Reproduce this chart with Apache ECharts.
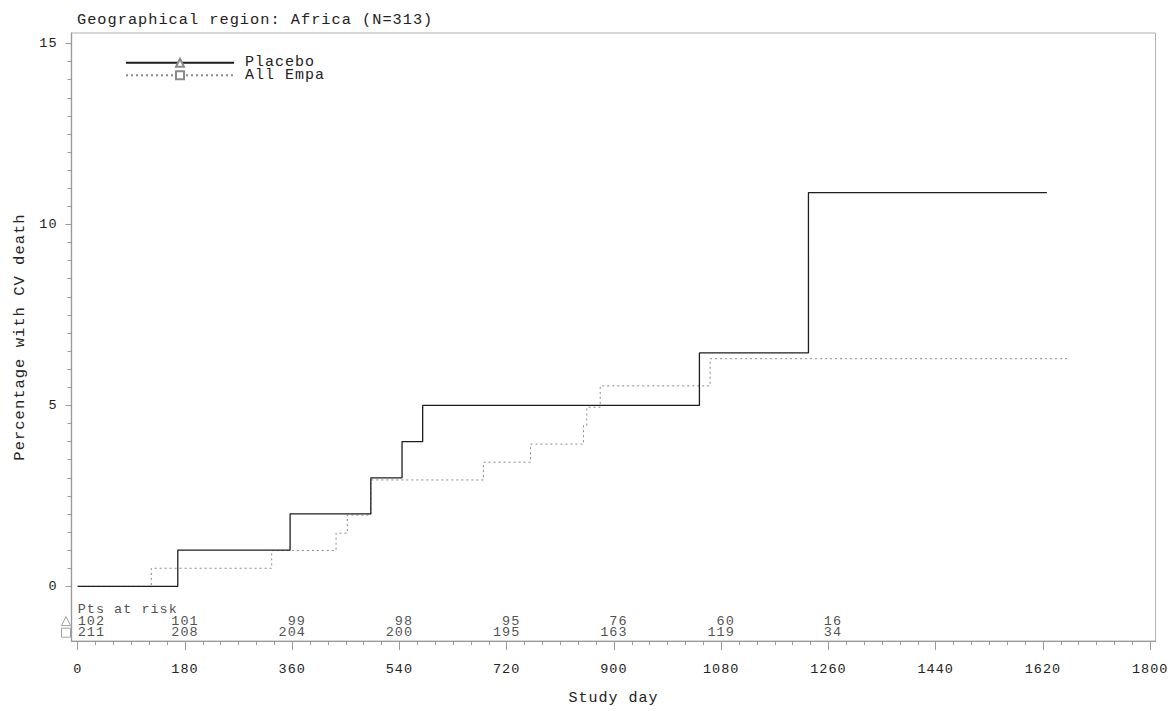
<!DOCTYPE html>
<html>
<head>
<meta charset="utf-8">
<script src="https://cdn.jsdelivr.net/npm/echarts@6/dist/echarts.min.js"></script>
<style>
  html, body { margin: 0; padding: 0; background: #fff; }
  #chart { width: 1175px; height: 711px; }
  #chart text { letter-spacing: 1px; }
</style>
</head>
<body>
<div id="chart"></div>
<script>
// Cumulative incidence of CV death, Africa subgroup
const chartTitle = 'Geographical region: Africa (N=313)';
const seriesNames = ['Placebo', 'All Empa'];

const placeboDays = [0, 168, 356.5, 492, 544.4, 579, 1043.5, 1226.5, 1626.7];
const placeboPct  = [0, 1.0, 2.0, 3.0, 4.0, 5.0, 6.45, 10.88, 10.88];

const empaDays = [0, 123.6, 325.6, 433.6, 452.6, 492, 681, 760, 849, 854.5, 877, 1061.5, 1665.8];
const empaPct  = [0, 0.5, 0.99, 1.47, 1.97, 2.94, 3.43, 3.93, 4.45, 4.95, 5.54, 6.29, 6.29];

// Patients at risk
const riskHeader  = 'Pts at risk';
const riskDays    = [0, 180, 360, 540, 720, 900, 1080, 1260];
const riskPlacebo = [102, 101, 99, 98, 95, 76, 60, 16];
const riskEmpa    = [211, 208, 204, 200, 195, 163, 119, 34];

// Axis ticks
const xMajorTicks = [0, 180, 360, 540, 720, 900, 1080, 1260, 1440, 1620, 1800];
const yMajorTicks = [0, 5, 10, 15];

const xMinorTicks = [];
for (let d = 0; d <= 1800; d += 30) xMinorTicks.push(d);
const yMinorTicks = [];
for (let v = 0; v <= 15; v += 0.5) yMinorTicks.push(v);

const FONT = 'Liberation Mono';
const TEXT = '#222';
const AXIS = '#9a9a9a';

const X_MIN = -10.4, X_MAX = 1809;
const Y_MIN = -1.51, Y_MAX = 15.29;

// rows of the at-risk table (in percentage units below zero)
const ROW_HEAD = -0.64, ROW_PLA = -0.96, ROW_EMPA = -1.28;
const MARK_X = -19.6;

const zip = (a, b) => a.map((v, i) => [v, b[i]]);
const pad3 = n => String(n).padStart(3, '\u00A0');

function riskRow(days, counts, rowY) {
  return days.map((d, i) => {
    const item = { value: [d, rowY, pad3(counts[i])] };
    if (d === 0) item.label = { align: 'left', formatter: String(counts[i]) };
    return item;
  });
}

const chart = echarts.init(document.getElementById('chart'), null, { renderer: 'svg' });

const baseX = {
  type: 'value', min: X_MIN, max: X_MAX, position: 'bottom',
  splitLine: { show: false },
  axisLine: { show: true, onZero: false, lineStyle: { color: AXIS, width: 1.2 } }
};
const baseY = {
  type: 'value', min: Y_MIN, max: Y_MAX, position: 'left',
  splitLine: { show: false },
  axisLine: { show: true, onZero: false, lineStyle: { color: AXIS, width: 1.2 } }
};

chart.setOption({
  animation: false,
  backgroundColor: '#fff',
  title: {
    text: chartTitle, left: 77, top: 12, padding: 0,
    textStyle: { fontFamily: FONT, fontSize: 15.3, fontWeight: 'normal', color: TEXT }
  },
  legend: {
    data: seriesNames, orient: 'vertical', left: 125, top: 51.7, padding: 0,
    itemWidth: 108, itemHeight: 10, itemGap: -9.4,
    selectedMode: false,
    textStyle: { fontFamily: FONT, fontSize: 15, color: TEXT, lineHeight: 10, padding: [12, 0, 0, 6] }
  },
  grid: {
    left: 71.5, right: 19.5, top: 33, bottom: 68.5,
    show: true, borderColor: '#b0b0b0', borderWidth: 1
  },
  xAxis: [
    Object.assign({}, baseX, {
      axisTick: { show: true, length: 4, customValues: xMinorTicks, lineStyle: { color: AXIS } },
      axisLabel: { show: false }
    }),
    Object.assign({}, baseX, {
      axisTick: { show: true, length: 9, customValues: xMajorTicks, lineStyle: { color: AXIS } },
      axisLabel: { show: true, customValues: xMajorTicks, margin: 21,
        formatter: v => String(v),
        fontFamily: FONT, fontSize: 13.5, color: TEXT },
      name: 'Study day', nameLocation: 'middle', nameGap: 50,
      nameTextStyle: { fontFamily: FONT, fontSize: 15, color: TEXT }
    })
  ],
  yAxis: [
    Object.assign({}, baseY, {
      axisTick: { show: true, length: 4, customValues: yMinorTicks, lineStyle: { color: AXIS } },
      axisLabel: { show: false }
    }),
    Object.assign({}, baseY, {
      axisTick: { show: true, length: 6, customValues: yMajorTicks, lineStyle: { color: AXIS } },
      axisLabel: { show: true, customValues: yMajorTicks, margin: 14,
        formatter: v => String(v),
        fontFamily: FONT, fontSize: 13.5, color: TEXT },
      name: 'Percentage with CV death', nameLocation: 'middle', nameGap: 44,
      nameTextStyle: { fontFamily: FONT, fontSize: 15.5, color: TEXT }
    })
  ],
  series: [
    {
      name: seriesNames[1], type: 'line', step: 'end',
      data: zip(empaDays, empaPct),
      showSymbol: false, symbol: 'rect', symbolSize: 9,
      itemStyle: { color: '#fff', borderColor: '#8a8a8a', borderWidth: 1 },
      lineStyle: { color: '#8a8a8a', width: 1, type: [2, 3] },
      z: 2
    },
    {
      name: seriesNames[0], type: 'line', step: 'end',
      data: zip(placeboDays, placeboPct),
      showSymbol: false, symbol: 'triangle', symbolSize: 9,
      itemStyle: { color: '#fff', borderColor: '#8a8a8a', borderWidth: 1 },
      lineStyle: { color: '#1e1e1e', width: 1.3 },
      z: 3
    },
    {
      type: 'scatter', silent: true, symbolSize: 0,
      data: [{ value: [0, ROW_HEAD] }],
      label: { show: true, position: 'inside', align: 'left', formatter: riskHeader,
        fontFamily: FONT, fontSize: 13.5, color: TEXT }
    },
    {
      type: 'scatter', silent: true, symbolSize: 0,
      data: riskRow(riskDays, riskPlacebo, ROW_PLA),
      label: { show: true, position: 'inside', align: 'center',
        formatter: p => p.value[2], fontFamily: FONT, fontSize: 13.5, color: TEXT }
    },
    {
      type: 'scatter', silent: true, symbolSize: 0,
      data: riskRow(riskDays, riskEmpa, ROW_EMPA),
      label: { show: true, position: 'inside', align: 'center',
        formatter: p => p.value[2], fontFamily: FONT, fontSize: 13.5, color: TEXT }
    },
    {
      type: 'scatter', silent: true, clip: false,
      data: [
        { value: [MARK_X, ROW_PLA], symbol: 'triangle' },
        { value: [MARK_X, ROW_EMPA], symbol: 'rect' }
      ],
      symbolSize: 9,
      itemStyle: { color: '#fff', borderColor: '#8a8a8a', borderWidth: 1 }
    }
  ]
});
</script>
</body>
</html>
